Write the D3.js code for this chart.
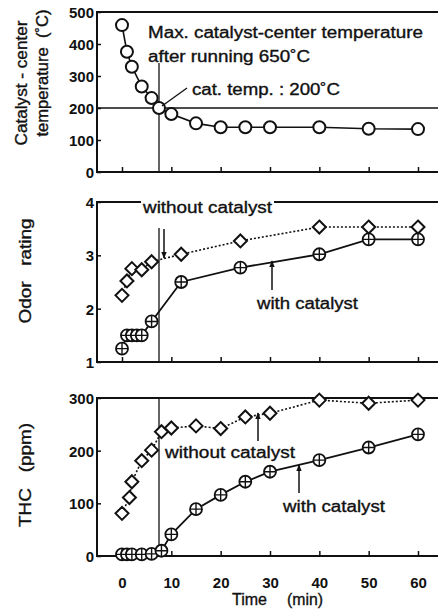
<!DOCTYPE html>
<html>
<head>
<meta charset="utf-8">
<script src="https://cdn.jsdelivr.net/npm/d3@7"></script>
<style>
  html, body { margin: 0; padding: 0; background: #fff; }
  svg { display: block; }
  text { font-family: "Liberation Sans", Arial, Helvetica, sans-serif; fill: #111; white-space: pre; }
  text.lbl { stroke: #111; stroke-width: 0.35px; }
</style>
</head>
<body>
<svg id="chart" width="438" height="610"></svg>
<script>
// ---------- data ----------
const timeTicks = [0, 10, 20, 30, 40, 50, 60];

const tempTime   = [0, 1, 2, 4, 6, 7.5, 10, 15, 20, 25, 30, 40, 50, 60];
const tempValues = [459, 376, 329, 267, 231, 200, 181, 152, 140, 140, 140, 140, 135, 134];
const tempTicks  = [0, 100, 200, 300, 400, 500];

const odorWithoutTime   = [0, 1, 2, 4, 6, 12, 24, 40, 50, 60];
const odorWithoutValues = [2.25, 2.52, 2.75, 2.73, 2.88, 3.02, 3.27, 3.53, 3.53, 3.53];
const odorWithTime      = [0, 1, 2, 3, 4, 6, 12, 24, 40, 50, 60];
const odorWithValues    = [1.25, 1.5, 1.5, 1.5, 1.5, 1.76, 2.5, 2.77, 3.02, 3.3, 3.3];
const odorTicks         = [1, 2, 3, 4];

const thcWithoutTime   = [0, 1.5, 2, 4, 6, 8, 10, 15, 20, 25, 30, 40, 50, 60];
const thcWithoutValues = [81, 111, 141, 181, 201, 236, 243, 247, 242, 264, 271, 296, 290, 296];
const thcWithTime      = [0, 1, 2, 4, 6, 8, 10, 15, 20, 25, 30, 40, 50, 60];
const thcWithValues    = [3, 3, 3, 3, 4, 10, 41, 89, 116, 141, 160, 182, 206, 231];
const thcTicks         = [0, 100, 200, 300];

// ---------- layout ----------
const svg = d3.select("#chart");
const left = 97, right = 441;
const x = d3.scaleLinear().domain([0, 60]).range([122, 418]);

const panels = [
  { name: "temp", y: d3.scaleLinear().domain([0, 500]).range([172, 12]), ticks: tempTicks },
  { name: "odor", y: d3.scaleLinear().domain([1, 4]).range([362, 202]), ticks: odorTicks },
  { name: "thc",  y: d3.scaleLinear().domain([0, 300]).range([556, 398]), ticks: thcTicks }
];

svg.append("defs").append("marker")
  .attr("id", "arr").attr("viewBox", "0 0 10 10").attr("refX", 9).attr("refY", 5)
  .attr("markerWidth", 7).attr("markerHeight", 9).attr("markerUnits", "userSpaceOnUse")
  .attr("orient", "auto")
  .append("path").attr("d", "M0,1 L10,5 L0,9 Z").attr("fill", "#111");

panels.forEach(p => {
  const g = svg.append("g");
  const [y0, y1] = p.y.range();
  // frame
  g.append("rect").attr("x", left).attr("y", y1).attr("width", right - left).attr("height", y0 - y1)
    .attr("fill", "none").attr("stroke", "#111").attr("stroke-width", 2);
  // y axis (inward ticks)
  const ya = g.append("g").attr("transform", `translate(${left},0)`)
    .call(d3.axisLeft(p.y).tickValues(p.ticks).tickSize(-4).tickPadding(3).tickFormat(d3.format("d")));
  ya.select(".domain").remove();
  ya.selectAll("line").attr("stroke", "#111").attr("stroke-width", 1.5);
  ya.selectAll("text").attr("font-size", 15).attr("font-weight", "bold").attr("fill", "#111")
    .attr("dy", "0.36em").style("font-family", "Liberation Sans, Arial, sans-serif");
  // x axis (inward ticks)
  const xa = g.append("g").attr("transform", `translate(0,${y0})`)
    .call(d3.axisBottom(x).tickValues(timeTicks).tickSize(-5).tickPadding(21));
  xa.select(".domain").remove();
  xa.selectAll("line").attr("stroke", "#111").attr("stroke-width", 1.5);
  if (p.name === "thc") {
    xa.selectAll("text").attr("font-size", 15).attr("font-weight", "bold").attr("fill", "#111")
      .style("font-family", "Liberation Sans, Arial, sans-serif");
  } else {
    xa.selectAll("text").remove();
  }
  p.g = g;
});

function line(g, xs, ys, yScale, dashed, w) {
  const pts = xs.map((t, i) => [x(t), yScale(ys[i])]);
  g.append("path").attr("d", d3.line()(pts)).attr("fill", "none").attr("stroke", "#111")
    .attr("stroke-width", w).attr("stroke-dasharray", dashed ? "2,2" : null);
  return pts;
}
function circles(g, pts) {
  g.selectAll(null).data(pts).enter().append("circle")
    .attr("cx", d => d[0]).attr("cy", d => d[1]).attr("r", 6)
    .attr("fill", "#fff").attr("stroke", "#111").attr("stroke-width", 2);
}
function plusCircles(g, pts) {
  const s = g.selectAll(null).data(pts).enter().append("g")
    .attr("transform", d => `translate(${d[0]},${d[1]})`);
  s.append("circle").attr("r", 6).attr("fill", "#fff").attr("stroke", "#111").attr("stroke-width", 1.8);
  s.append("path").attr("d", "M-6,0H6M0,-6V6").attr("stroke", "#111").attr("stroke-width", 1.4);
}
function diamonds(g, pts) {
  g.selectAll(null).data(pts).enter().append("path")
    .attr("d", d => `M${d[0]},${d[1]-6.5}L${d[0]+6.5},${d[1]}L${d[0]},${d[1]+6.5}L${d[0]-6.5},${d[1]}Z`)
    .attr("fill", "#fff").attr("stroke", "#111").attr("stroke-width", 2);
}
function label(txt, xx, yy, len, size, knockout) {
  if (knockout) {
    svg.append("rect").attr("x", xx - 2).attr("y", yy - 14).attr("width", len + 4).attr("height", 18)
      .attr("fill", "#fff");
  }
  svg.append("text").attr("class", "lbl").attr("x", xx).attr("y", yy).attr("font-size", size || 16)
    .attr("textLength", len).attr("lengthAdjust", "spacingAndGlyphs").text(txt);
}
function vlabel(txt, cx, cy, len, size) {
  svg.append("text").attr("class", "lbl").attr("transform", `translate(${cx},${cy}) rotate(-90)`)
    .attr("text-anchor", "middle").attr("dy", "0.35em").attr("font-size", size || 16)
    .attr("textLength", len).attr("lengthAdjust", "spacingAndGlyphs").text(txt);
}
function arrow(xx, yFrom, yTo) {
  svg.append("line").attr("x1", xx).attr("x2", xx).attr("y1", yFrom).attr("y2", yTo)
    .attr("stroke", "#111").attr("stroke-width", 1.5).attr("marker-end", "url(#arr)");
}

// ---------- panel 1: temperature ----------
const P1 = panels[0];
P1.g.append("line").attr("x1", left).attr("x2", right).attr("y1", P1.y(200)).attr("y2", P1.y(200))
  .attr("stroke", "#111").attr("stroke-width", 1.3);
P1.g.append("line").attr("x1", x(7.5)).attr("x2", x(7.5)).attr("y1", 63).attr("y2", P1.y(0))
  .attr("stroke", "#111").attr("stroke-width", 1.3);
const tp = line(P1.g, tempTime, tempValues, P1.y, false, 1.6);
circles(P1.g, tp);
svg.append("line").attr("x1", x(7.5) + 3).attr("y1", P1.y(200) - 2).attr("x2", 187).attr("y2", 88)
  .attr("stroke", "#111").attr("stroke-width", 1.3);
label("Max. catalyst-center temperature", 148, 38, 275);
label("after running 650˚C", 148, 62, 162);
label("cat. temp. : 200˚C", 192, 95, 148);
vlabel("Catalyst - center", 21, 83, 125);
vlabel("temperature  (˚C)", 42, 73, 127);

// ---------- panel 2: odor ----------
const P2 = panels[1];
P2.g.append("line").attr("x1", x(7.5)).attr("x2", x(7.5)).attr("y1", 228).attr("y2", P2.y(1))
  .attr("stroke", "#111").attr("stroke-width", 1.3);
const ow = line(P2.g, odorWithoutTime, odorWithoutValues, P2.y, true, 1.6);
const oc = line(P2.g, odorWithTime, odorWithValues, P2.y, false, 1.8);
diamonds(P2.g, ow);
plusCircles(P2.g, oc);
label("without catalyst", 143, 213, 129, 16, true);
arrow(164, 229, 258);
label("with catalyst", 257, 309, 101);
arrow(272, 290, 261);
vlabel("Odor   rating", 25, 271, 105);

// ---------- panel 3: THC ----------
const P3 = panels[2];
P3.g.append("line").attr("x1", x(7.5)).attr("x2", x(7.5)).attr("y1", P3.y(300)).attr("y2", P3.y(0))
  .attr("stroke", "#111").attr("stroke-width", 1.3);
const tw = line(P3.g, thcWithoutTime, thcWithoutValues, P3.y, true, 1.6);
const tc = line(P3.g, thcWithTime, thcWithValues, P3.y, false, 1.8);
diamonds(P3.g, tw);
plusCircles(P3.g, tc);
label("without catalyst", 165, 458, 130);
arrow(258, 441, 413);
label("with catalyst", 283, 512, 102);
arrow(299, 493, 465);
vlabel("THC   (ppm)", 25, 475, 104);

// x title
svg.append("text").attr("class", "lbl").attr("x", 232).attr("y", 605).attr("font-size", 16).attr("textLength", 35)
  .attr("lengthAdjust", "spacingAndGlyphs").text("Time");
svg.append("text").attr("class", "lbl").attr("x", 287).attr("y", 605).attr("font-size", 16).attr("textLength", 36)
  .attr("lengthAdjust", "spacingAndGlyphs").text("(min)");
</script>
</body>
</html>
